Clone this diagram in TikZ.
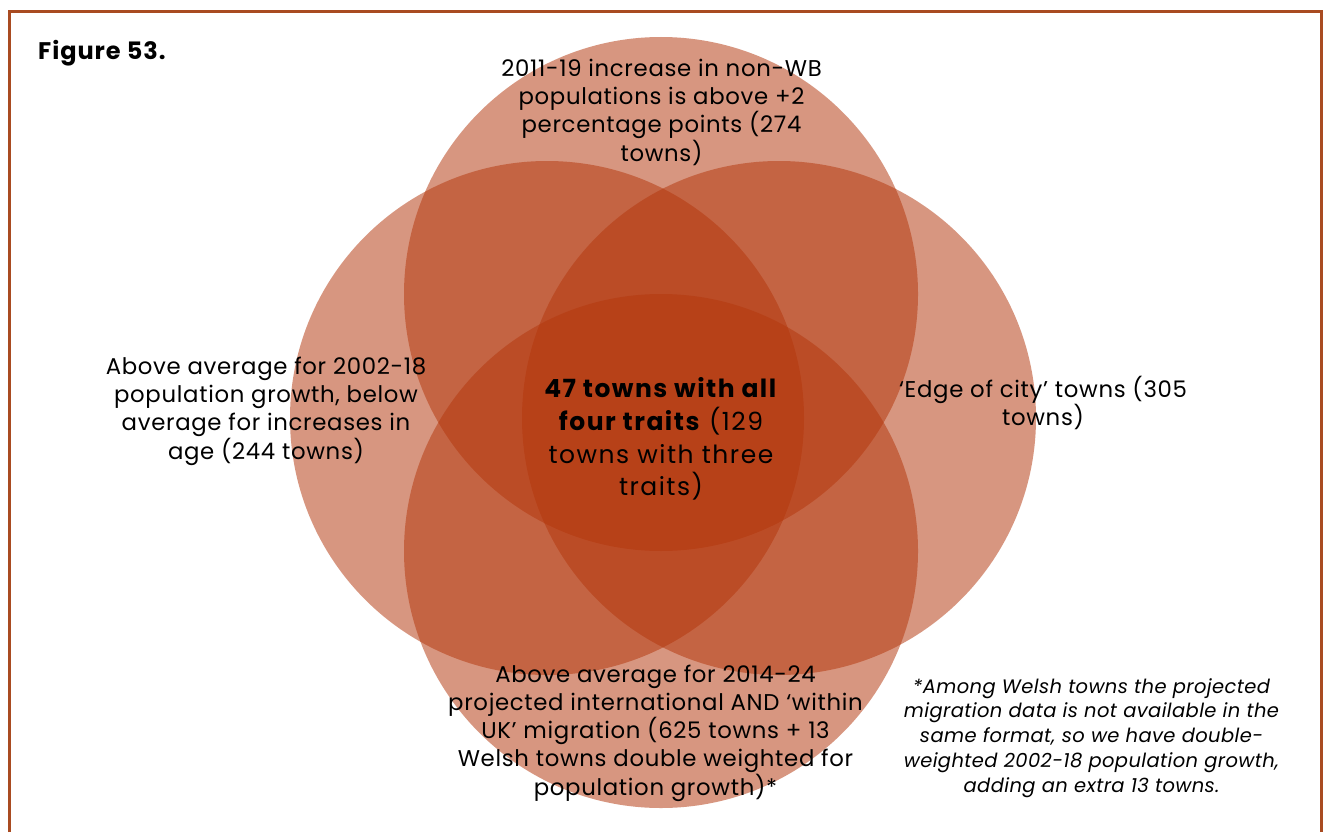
\documentclass[tikz,border=0pt]{standalone}
\usepackage{fontspec}
\setmainfont[LetterSpace=3]{Poppins}
\newfontfamily\centrefont[LetterSpace=6]{Poppins}
\newfontfamily\notefont[LetterSpace=2]{Poppins}
\newfontfamily\figfont[LetterSpace=4]{Poppins}
\begin{document}
\definecolor{framecol}{HTML}{A94B21}
\definecolor{setcol}{HTML}{B4370C}
\begin{tikzpicture}[x=1pt,y=-1pt,
  setdisc/.style={circle,fill=setcol,fill opacity=0.52,draw=none,minimum size=514pt,inner sep=0pt},
  label/.style={align=center,text=black,font=\fontsize{22.8}{28.3}\selectfont,inner sep=0pt},
  note/.style={align=center,text=black,font=\notefont\itshape\fontsize{19.5}{24.8}\selectfont,inner sep=0pt}]
  \useasboundingbox (0,0) rectangle (1324,832);
  \fill[white] (0,0) rectangle (1324,832);
  % the four overlapping sets
  \node[setdisc] (top) at (661,294) {};
  \node[setdisc] (left) at (547,418) {};
  \node[setdisc] (right) at (779,418) {};
  \node[setdisc] (bottom) at (661,551) {};
  % open frame
  \draw[framecol,line width=3pt] (9,832) -- (9,11.5) -- (1321.5,11.5) -- (1321.5,832);
  \node[anchor=west,inner sep=0pt,font=\figfont\bfseries\fontsize{24}{28}\selectfont] (fig) at (38,53) {Figure 53.};
  % set labels
  \node[label] (ltop) at (661.5,112) {2011-19 increase in non-WB\\populations is above +2\\percentage points (274\\towns)};
  \node[label] (lleft) at (266,411) {Above average for 2002-18\\population growth, below\\average for increases in\\age (244 towns)};
  \node[label] (lright) at (1043,403) {‘Edge of city’ towns (305\\towns)};
  \node[label,font=\centrefont\fontsize{25}{32.7}\selectfont] (lcentre) at (661,439) {\textbf{47 towns with all}\\\textbf{four traits} (129\\towns with three\\traits)};
  \node[label] (lbottom) at (655.5,733) {Above average for 2014-24\\projected international AND ‘within\\UK’ migration (625 towns + 13\\Welsh towns double weighted for\\population growth)*};
  \node[note] (footnote) at (1091.5,738) {*Among Welsh towns the projected\\migration data is not available in the\\same format, so we have double-\\weighted 2002-18 population growth,\\adding an extra 13 towns.};
\end{tikzpicture}
\end{document}
